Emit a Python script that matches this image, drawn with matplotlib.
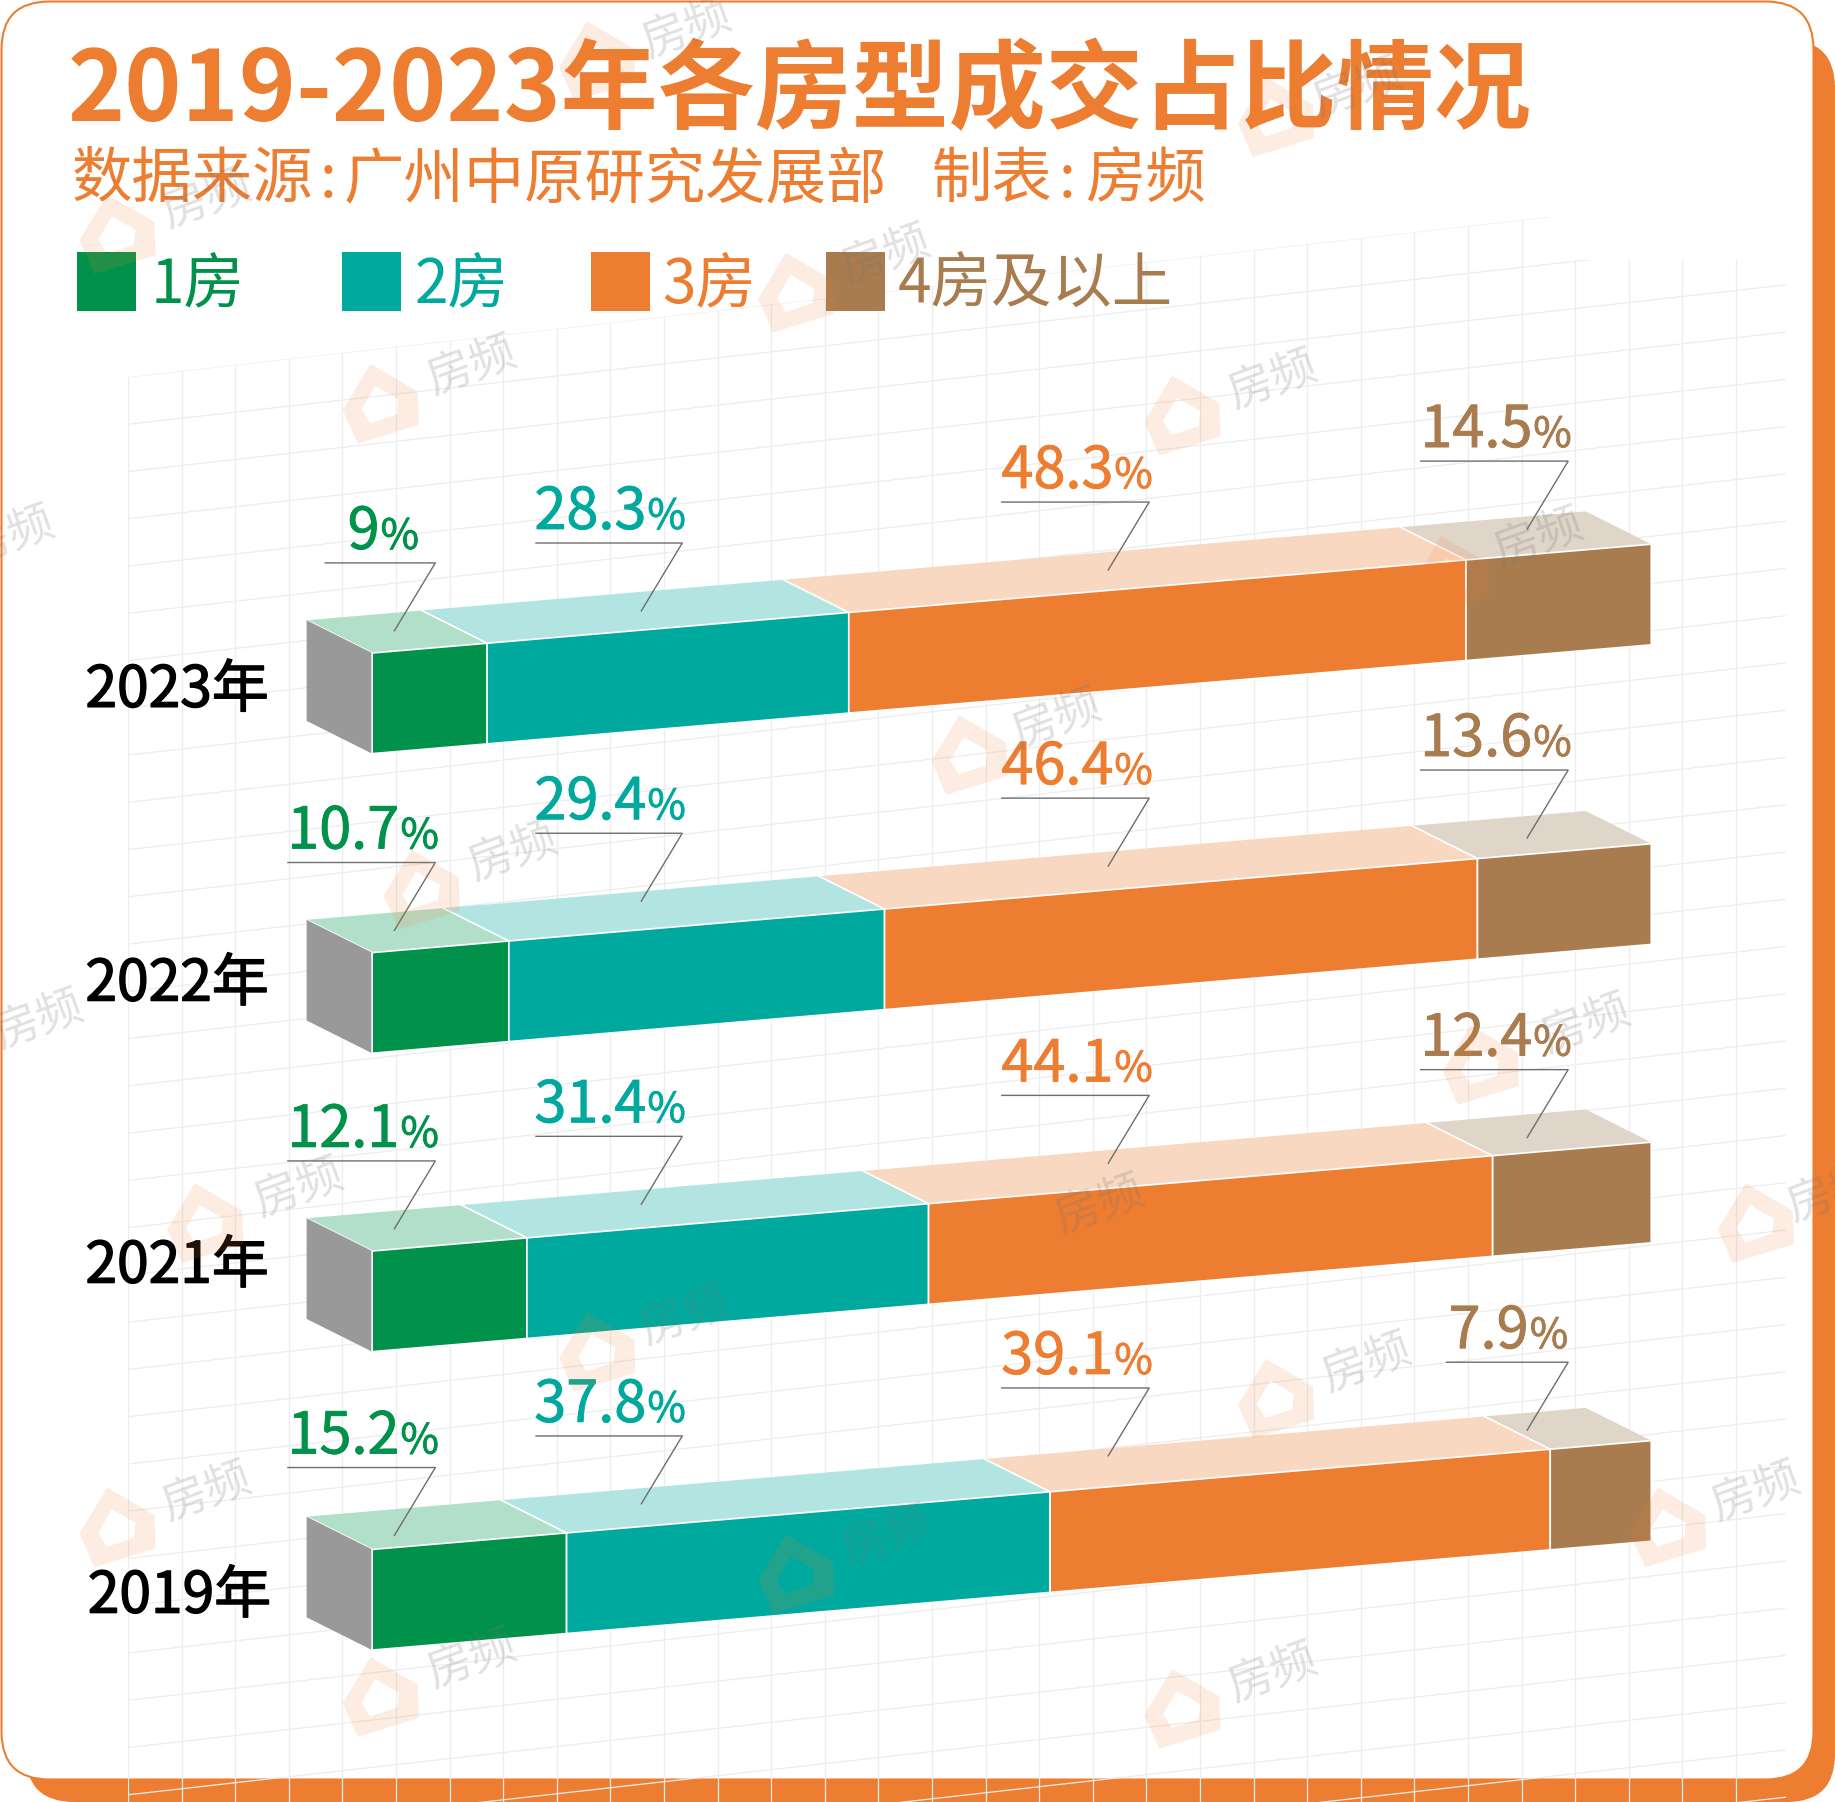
"""Share of deals by flat type, 2019-2023, drawn as skewed 3D stacked bars."""

import matplotlib

matplotlib.use("Agg")

import matplotlib.patheffects as pe
import matplotlib.pyplot as plt
import numpy as np
from matplotlib.patches import FancyBboxPatch, PathPatch, Polygon
from matplotlib.path import Path
from matplotlib.transforms import Affine2D

plt.rcParams["font.family"] = ["Noto Sans CJK SC", "DejaVu Sans"]

years = ["2023年", "2022年", "2021年", "2019年"]
types = ["1房", "2房", "3房", "4房及以上"]
share_1 = [9, 10.7, 12.1, 15.2]
share_2 = [28.3, 29.4, 31.4, 37.8]
share_3 = [48.3, 46.4, 44.1, 39.1]
share_4 = [14.5, 13.6, 12.4, 7.9]
label_1 = ["9", "10.7", "12.1", "15.2"]
label_2 = ["28.3", "29.4", "31.4", "37.8"]
label_3 = ["48.3", "46.4", "44.1", "39.1"]
label_4 = ["14.5", "13.6", "12.4", "7.9"]

ORANGE = "#EC7D31"
FRONT = ["#00924A", "#00A99D", ORANGE, "#A87C4F"]
TOP = ["#B2DFC9", "#B2E5E1", "#F9D8C1", "#DFD5C9"]
TEXT = ["#00924A", "#00A99D", ORANGE, "#A87C4F"]

# geometry, in pixels of the 1835x1802 canvas
S = 1835 / 1568
BAR_X0, BAR_W = 318 * S, 1093 * S
BAR_H = 86 * S
BAR_RISE = 93 * S
DEPTH = (-56 * S, -28 * S)
BAR_TOP = [558 * S, 814 * S, 1069 * S, 1324 * S]
YEAR_BASE = [604, 855, 1096, 1378]
YEAR_X = [73, 73, 73, 75]

# leaders, per bar and per type (shown-size pixels)
LEADER_Y = [
    [481, 464, 429, 394],
    [737, 712, 682, 658],
    [992, 971, 936, 914],
    [1254, 1227, 1186, 1164],
]
LEADER_END = [372, 583, 982, 1340]
LEADER_LEN = [126, 125, 126, 126]
FOOT_DX, FOOT_DY = -35, 58

LEGEND_X = [65.8, 292.5, 505, 706]
LEGEND_TX = [129, 354, 566, 767]

# watermark positions: (icon x, icon y, text x, text y), shown-size pixels
MARKS = [
    (325, 343, 403, 313), (1010, 353, 1088, 325), (100, 198, 177, 170),
    (510, 50, 587, 25), (1090, 98, 1160, 75), (680, 248, 757, 218),
    (828, 643, 903, 615), (360, 758, 438, 728), (-45, 905, 33, 872),
    (-70, 490, 8, 458), (175, 1043, 255, 1015), (1265, 908, 1355, 875),
    (1500, 1043, 1565, 1020), (860, 1060, 940, 1030), (510, 1153, 585, 1125),
    (1090, 1193, 1168, 1165), (100, 1303, 177, 1275), (680, 1343, 758, 1313),
    (1425, 1303, 1500, 1275), (325, 1448, 403, 1418), (1010, 1458, 1088, 1430),
    (1240, 490, 1315, 460),
]


def house(cx, cy, size):
    # outer outline, then the hole running the other way round
    verts = np.array([
        (-1, .02), (-.05, -1), (1, -.05), (.85, .8), (-.8, .95), (-1, .02),
        (-.52, .1), (-.38, .5), (.35, .42), (.48, .05), (-.05, -.42), (-.52, .1),
    ])
    codes = [Path.MOVETO] + [Path.LINETO] * 4 + [Path.CLOSEPOLY]
    path = Path(verts, codes * 2)
    tf = Affine2D().scale(size).rotate_deg(-12).translate(cx, cy)
    return path.transformed(tf)


def draw_pct(ax, fig, num, right, base, color, zorder=6):
    rend = fig.canvas.get_renderer()
    thick = [pe.withStroke(linewidth=0.6, foreground=color)]
    pct = ax.text(right, base, "%", color=color, fontsize=30, ha="right", va="baseline",
                  zorder=zorder, path_effects=thick)
    box = pct.get_window_extent(rend).transformed(ax.transData.inverted())
    ax.text(box.x0 - 1, base, num, color=color, fontsize=41.5, ha="right", va="baseline",
            zorder=zorder, path_effects=thick)


fig = plt.figure(figsize=(18.35, 18.02), dpi=100)
ax = fig.add_axes([0, 0, 1, 1])
ax.set_xlim(0, 1835)
ax.set_ylim(1802, 0)
ax.axis("off")

# card and its orange backing
ax.add_patch(FancyBboxPatch((26, 40), 1809, 1762, boxstyle="round,pad=0,rounding_size=48",
                            fc=ORANGE, ec="none", zorder=1))
ax.add_patch(FancyBboxPatch((1.5, 1.5), 1812, 1778, boxstyle="round,pad=0,rounding_size=48",
                            fc="white", ec=ORANGE, lw=1.5, zorder=1.5))

# background grid, cut along its stepped top edge
clip = Polygon([(128, 377), (1549, 217), (1549, 260), (1786, 260), (1786, 1802), (128, 1802)],
               transform=ax.transData, fc="none", ec="none")
ax.add_patch(clip)
for x in np.arange(128, 1790, 53.6):
    ln, = ax.plot([x, x], [200, 1802], color="#EDEDED", lw=0.9, zorder=2)
    ln.set_clip_path(clip)
for y0 in np.arange(377, 2000, 47.26):
    ln, = ax.plot([128, 1786], [y0, y0 - 0.1126 * 1658], color="#EDEDED", lw=0.9, zorder=2)
    ln.set_clip_path(clip)

# titles
ax.text(68, 121, "2019-2023年各房型成交占比情况", color=ORANGE, fontsize=69.8, fontweight="bold",
        va="baseline", zorder=6)
SUB_PARTS = [(72, "数据来源"), (344, "广州中原研究发展部"), (932, "制表"), (1085, "房频")]
for x, part in SUB_PARTS:
    ax.text(x, 197, part, color=ORANGE, fontsize=43.5, va="baseline", zorder=6)
for x in (328, 1067):
    ax.text(x, 197, ":", color=ORANGE, fontsize=43.5, ha="center", va="baseline", zorder=6)

# legend
for x, tx, name, c in zip(LEGEND_X, LEGEND_TX, types, FRONT):
    ax.add_patch(plt.Rectangle((x * S, 215 * S), 50.5 * S, 51 * S, fc=c, ec="none", zorder=6))
    ax.text(tx * S, 259 * S, name, color=c, fontsize=43.5, va="baseline", zorder=6)

# bars
shares = np.array([share_1, share_2, share_3, share_4]).T
labels = [label_1, label_2, label_3, label_4]
for r, row in enumerate(shares):
    cum = np.concatenate([[0], np.cumsum(row)]) / row.sum()
    top = BAR_TOP[r]

    def pt(f, h=0.0, back=False):
        x = BAR_X0 + f * BAR_W
        y = top - f * BAR_RISE + h * BAR_H
        if back:
            return (x + DEPTH[0], y + DEPTH[1])
        return (x, y)

    ax.add_patch(Polygon([pt(0), pt(0, 1), pt(0, 1, True), pt(0, 0, True)], fc="#999999", ec="none", zorder=3.2))
    for k in range(4):
        a, b = cum[k], cum[k + 1]
        ax.add_patch(Polygon([pt(a), pt(b), pt(b, 0, True), pt(a, 0, True)],
                             fc=TOP[k], ec="none", zorder=3))
        ax.plot(*zip(pt(a), pt(a, 0, True)), color="white", lw=1.2, zorder=3.1)
        ax.add_patch(Polygon([pt(a), pt(b), pt(b, 1), pt(a, 1)],
                             fc=FRONT[k], ec="white", lw=1.2, zorder=3.5))

    ax.text(YEAR_X[r] * S, YEAR_BASE[r] * S, years[r], color="black", fontsize=41,
            va="baseline", zorder=6, path_effects=[pe.withStroke(linewidth=1.0, foreground="black")])

    for k in range(4):
        end = LEADER_END[k]
        y = LEADER_Y[r][k]
        length = LEADER_LEN[k]
        txt_end = end + 3
        if labels[k][r] == "9":
            length, txt_end = 94, end - 14
        if labels[k][r] == "7.9":
            length, txt_end = 104, end
        xs = np.array([end - length, end, end + FOOT_DX]) * S
        ys = np.array([y, y, y + FOOT_DY]) * S
        ax.plot(xs, ys, color="#6E6E6E", lw=1, zorder=5)
        draw_pct(ax, fig, labels[k][r], txt_end * S, (y - 12) * S, TEXT[k])

# watermarks sit over everything
for ix, iy, tx, ty in MARKS:
    ax.add_patch(PathPatch(house(ix * S, iy * S, 33 * S), fc=ORANGE, ec="none", alpha=0.14, zorder=7))
    ax.text(tx * S, ty * S, "房频", color="#777777", alpha=0.22, fontsize=33, rotation=20,
            ha="center", va="center", zorder=7, clip_on=True)

fig.savefig("out.png", dpi=100)
plt.close(fig)
